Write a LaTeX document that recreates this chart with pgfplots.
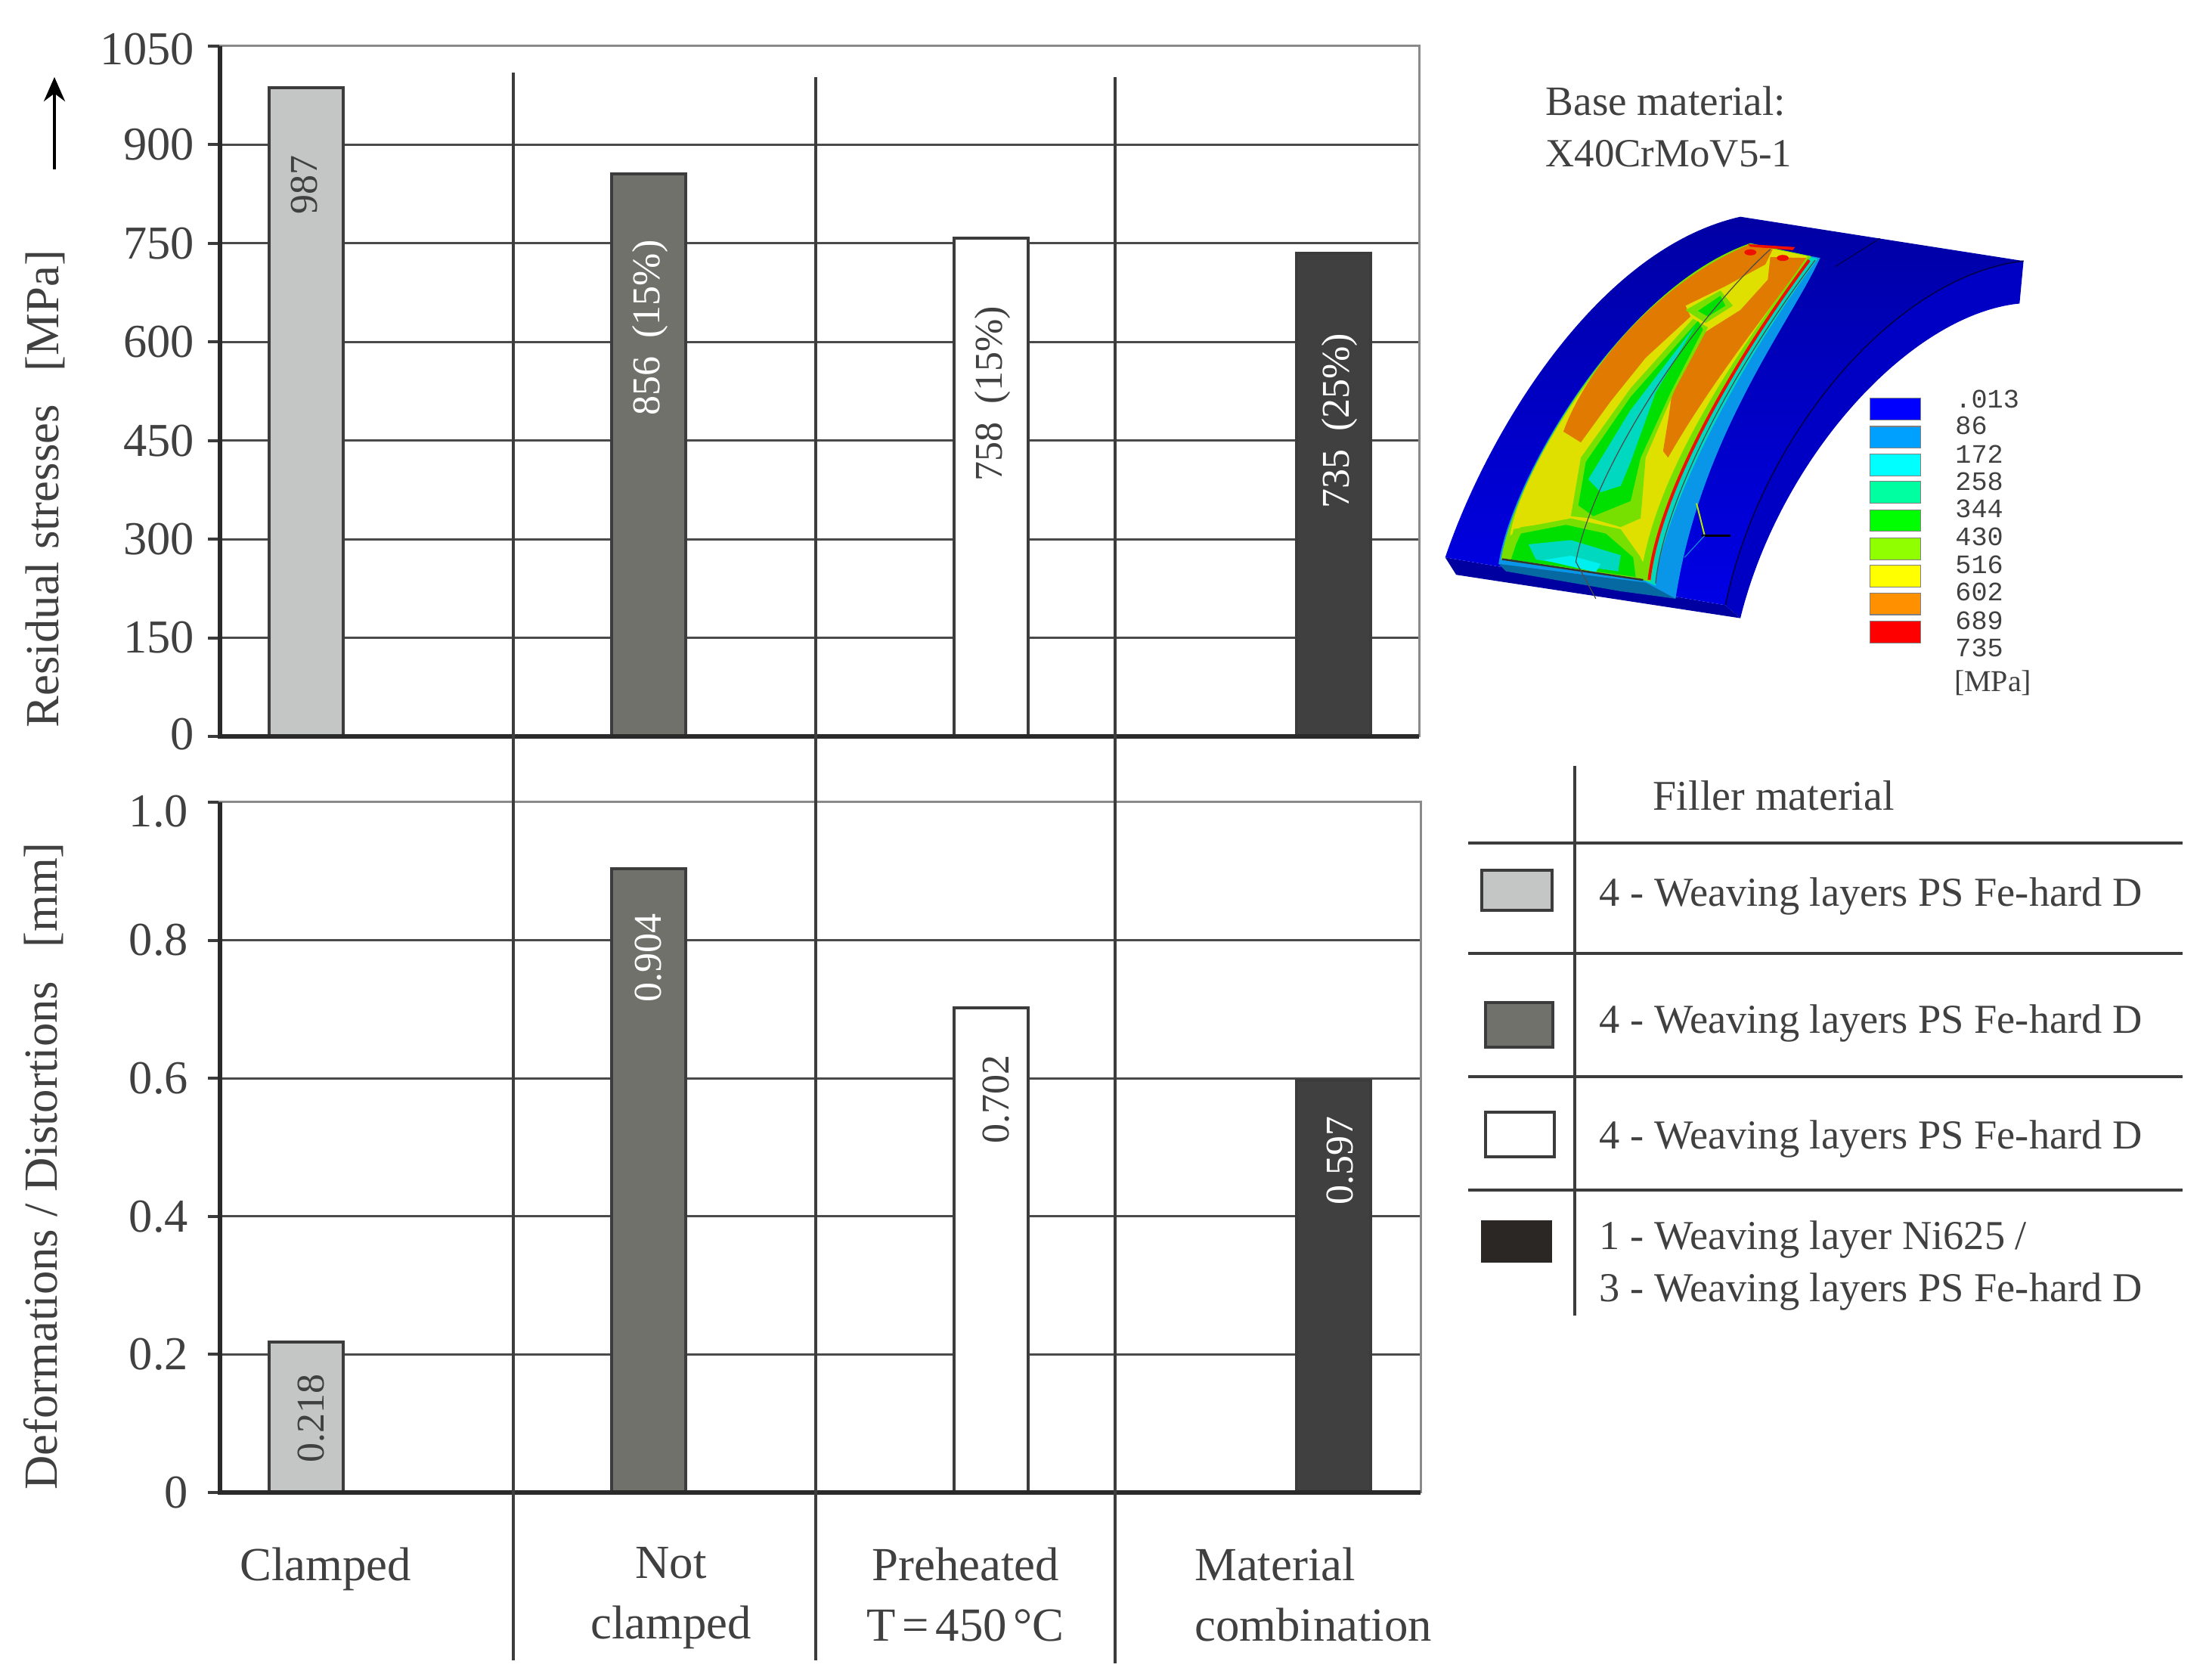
\documentclass[border=0pt]{standalone}
\usepackage{pgfplots}
\pgfplotsset{compat=1.18}
\usepackage{fontspec}
\setmainfont{Liberation Serif}
\newfontfamily\monof{Liberation Mono}
\usetikzlibrary{arrows.meta}
\definecolor{tc}{HTML}{404040}
\definecolor{gc}{HTML}{4A4A4A}
\definecolor{bc}{HTML}{8A8A8A}
\definecolor{ln}{HTML}{3C3C3C}
\definecolor{b1}{HTML}{C3C6C4}
\definecolor{b2}{HTML}{71716C}
\definecolor{b4}{HTML}{404040}
\definecolor{b4l}{HTML}{2A2725}
\definecolor{feA}{HTML}{0000E6}
\definecolor{feB}{HTML}{0000C4}
\definecolor{feC}{HTML}{0000A0}
\definecolor{feD}{HTML}{0000A4}
\definecolor{fLB}{HTML}{0A96E8}
\definecolor{fTL}{HTML}{00D8C0}
\definecolor{fCY}{HTML}{00F0F0}
\definecolor{fGR}{HTML}{00E000}
\definecolor{fLG}{HTML}{78E000}
\definecolor{fYE}{HTML}{E0E000}
\definecolor{fOR}{HTML}{E07A00}
\definecolor{fRE}{HTML}{F01000}
\newcommand{\lab}{\fontsize{15.7}{20}\selectfont}
\newcommand{\tk}{\fontsize{15.6}{18}\selectfont}
\newcommand{\leg}{\fontsize{13.6}{17}\selectfont}
\newcommand{\barf}{\fontsize{13}{15}\selectfont}
\pgfplotsset{
  mine/.style={
    scale only axis, clip=false,
    axis line style={draw=bc,line width=.75pt},
    ymajorgrids, grid style={line width=.75pt,draw=gc},
    tick align=outside, ytick pos=left,
    major tick length=4pt,
    ytick style={line width=1pt,draw=ln},
    xtick style={draw=none},
    yticklabel style={font=\tk,text=tc},
    every axis y label/.style={rotate=90,anchor=center,font=\lab,text=tc},
  },
  vbar/.style n args={3}{ybar,bar width=24.5pt,bar shift=0pt,draw=ln,line width=1pt,fill=#1,
    nodes near coords={#2},
    every node near coord/.style={#3,font=\barf,rotate=90,anchor=east,inner sep=0pt}},
}
\begin{document}
\begin{tikzpicture}
\useasboundingbox (0,0) rectangle (728.5pt,555.5pt);

% ---------- upper chart
\begin{axis}[mine,at={(72.75pt,312pt)},anchor=south west,width=396.5pt,height=228.25pt,
  xmin=-0.2504,xmax=3.2484,ymin=0,ymax=1050,
  xtick=\empty,ytick={0,150,300,450,600,750,900,1050},
  yticklabels={\raisebox{.8pt}[10.5pt][0pt]{0},150,300,450,600,750,900,\raisebox{-1pt}[10.5pt][0pt]{1050}},
  yticklabel style={xshift=-1pt},
  ylabel={Residual stresses\hspace{11pt}[MPa]},
  y label style={at={(rel axis cs:-0.1457,0.3587)}}]
\addplot[vbar={b1}{987}{text=tc,xshift=-.6pt,yshift=-22pt}] coordinates {(0,987)};
\addplot[vbar={b2}{856\hspace{6pt}(15\%)}{text=white,xshift=.5pt,yshift=-21.5pt}] coordinates {(1,856)};
\addplot[vbar={white}{758\hspace{6pt}(15\%)}{text=tc,xshift=.5pt,yshift=-22pt}] coordinates {(2,758)};
\addplot[vbar={b4}{735\hspace{6pt}(25\%)}{text=white,xshift=2pt,yshift=-26pt}] coordinates {(3,735)};
\draw[line width=1.5pt,draw=ln!70!black] (rel axis cs:0,1) -- (rel axis cs:0,0) -- (rel axis cs:1,0);
\end{axis}

% ---------- lower chart
\begin{axis}[mine,at={(72.75pt,62pt)},anchor=south west,width=397pt,height=228.25pt,
  xmin=-0.2504,xmax=3.2528,ymin=0,ymax=1,
  xtick={0.058,1.066,1.925,2.94},
  xticklabels={Clamped,{Not\\clamped},{Preheated\\T\hspace{2.2pt}=\hspace{2.2pt}450\hspace{2.2pt}°C},{Material\hspace*{25.3pt}\\combination}},
  xticklabel style={font=\lab,text=tc,align=center,yshift=-10.6pt},
  ytick={0,0.2,0.4,0.6,0.8,1},
  yticklabels={0,0.2,0.4,0.6,0.8,\raisebox{-3pt}[10.5pt][0pt]{1.0}},
  yticklabel style={xshift=-3pt},
  ylabel={Deformations / Distortions\hspace{11pt}[mm]},
  y label style={at={(rel axis cs:-0.147,0.4725)}}]
\addplot[vbar={b1}{0.218}{text=tc,xshift=1.8pt,yshift=-10.2pt}] coordinates {(0,0.218)};
\addplot[vbar={b2}{0.904}{text=white,xshift=0pt,yshift=-14.5pt}] coordinates {(1,0.904)};
\addplot[vbar={white}{0.702}{text=tc,xshift=1.5pt,yshift=-15pt}] coordinates {(2,0.702)};
\addplot[vbar={b4}{0.597}{text=white,xshift=2pt,yshift=-11.4pt}] coordinates {(3,0.597)};
\draw[line width=1.5pt,draw=ln!70!black] (rel axis cs:0,1) -- (rel axis cs:0,0) -- (rel axis cs:1,0);
\end{axis}

% ---------- everything in image pixels
\begin{scope}[shift={(0pt,555.5pt)},x=.25pt,y=-.25pt]
\draw[line width=.9pt,draw=ln] (679,96)--(679,2196);
\draw[line width=.9pt,draw=ln] (1079,102)--(1079,2196);
\draw[line width=1pt,draw=ln] (1475,102)--(1475,2200);
\draw[line width=1pt,-{Stealth[length=8pt,width=7pt]},draw=black] (72,224)--(72,102);

% legend table
\draw[line width=.8pt,draw=ln] (2083,1013)--(2083,1740);
\foreach \yy in {1115,1261,1424,1574} \draw[line width=.8pt,draw=ln] (1942,\yy)--(2887,\yy);
\node[anchor=west,inner sep=0,font=\fontsize{14}{17}\selectfont,text=tc] at (2186,1052) {Filler material};
\draw[line width=.9pt,draw=ln,fill=b1] (1960,1151) rectangle (2053,1204);
\draw[line width=.9pt,draw=ln,fill=b2] (1965,1326) rectangle (2054,1385);
\draw[line width=.9pt,draw=ln,fill=white] (1965,1471) rectangle (2056,1530);
\draw[line width=.5pt,draw=b4l,fill=b4l] (1960,1615) rectangle (2052,1669);
\node[anchor=west,inner sep=0,font=\leg,text=tc] at (2115,1186) {4 - Weaving layers PS Fe-hard D};
\node[anchor=west,inner sep=0,font=\leg,text=tc] at (2115,1354) {4 - Weaving layers PS Fe-hard D};
\node[anchor=west,inner sep=0,font=\leg,text=tc] at (2115,1507) {4 - Weaving layers PS Fe-hard D};
\node[anchor=west,inner sep=0,font=\leg,text=tc] at (2115,1640) {1 - Weaving layer Ni625 /};
\node[anchor=west,inner sep=0,font=\leg,text=tc] at (2115,1709) {3 - Weaving layers PS Fe-hard D};

% base material
\node[anchor=west,inner sep=0,font=\fontsize{13.8}{17}\selectfont,text=tc] at (2044,134) {Base material:};
\node[anchor=west,inner sep=0,font=\fontsize{13.2}{17}\selectfont,text=tc] at (2044,203) {X40CrMoV5-1};
\end{scope}

% ---------- FE illustration, in coordinates of the enlarged crop
\begin{scope}[xshift=470pt,yshift=540.5pt,x=.16485pt,y=-.1435pt]
% faces of the block
\fill[feB] (1208,497) -- (1200,595) .. controls (980,620) and (720,950) .. (640,1320) -- (610,1290) .. controls (680,900) and (950,530) .. (1208,497) -- cycle;
\fill[feC] (48,1180) -- (610,1290) -- (640,1320) -- (70,1220) -- cycle;
\shade[top color=feD,middle color=feA,bottom color=feA] (48,1180) .. controls (130,900) and (350,470) .. (640,395) -- (1208,497) .. controls (950,530) and (680,900) .. (610,1290) -- cycle;
\draw[line width=.4pt,draw=black!70!blue] (1208,497) .. controls (950,530) and (680,900) .. (610,1290);
\draw[line width=.3pt,draw=black!70!blue] (830,510) -- (920,445);
% light blue bed
\fill[fLB] (155,1195) .. controls (180,1000) and (400,560) .. (660,458) -- (800,490) .. controls (740,640) and (560,900) .. (510,1275) .. controls (400,1250) and (280,1230) .. (155,1195) -- cycle;
% teal strip along the right
\fill[fTL] (470,1245) .. controls (480,1090) and (620,760) .. (795,492) -- (770,485) .. controls (620,700) and (480,1000) .. (450,1235) -- cycle;
% yellow body
\fill[fLG] (160,1185) .. controls (185,1000) and (400,560) .. (660,456) -- (782,486) .. controls (660,690) and (490,960) .. (460,1235) -- cycle;
\fill[fYE] (178,1130) .. controls (195,990) and (405,565) .. (665,460) -- (775,486) .. controls (650,680) and (485,950) .. (445,1190) -- (400,1120) -- (300,1095) -- (200,1110) -- cycle;
% bottom patch
\fill[fLG] (175,1170) -- (185,1115) -- (300,1090) -- (400,1115) -- (440,1180) -- (445,1230) -- cycle;
\fill[fGR] (190,1150) -- (200,1125) -- (290,1105) -- (370,1125) -- (425,1180) -- (430,1225) -- (180,1185) -- cycle;
\fill[fTL] (215,1150) -- (300,1140) -- (400,1175) -- (395,1212) -- (230,1185) -- cycle;
\fill[fCY] (245,1186) -- (300,1176) -- (360,1195) -- (350,1214) -- cycle;
\fill[fLB!70!black] (155,1195) -- (450,1238) -- (510,1275) -- (400,1258) -- (170,1212) -- cycle;
\draw[line width=.6pt,draw=black!80] (162,1184) -- (445,1232);
% orange, left and right
\fill[fOR] (285,890) .. controls (330,745) and (475,545) .. (660,458) -- (705,470) -- (690,505) -- (610,555) -- (530,600) -- (540,625) -- (450,720) -- (380,820) -- (320,915) -- cycle;
\fill[fOR] (700,488) -- (772,490) .. controls (700,610) and (590,760) .. (495,950) -- (485,935) -- (497,850) -- (515,700) -- (640,610) -- (695,540) -- cycle;
% central tear
\fill[fLG] (300,1085) -- (320,950) -- (420,790) -- (545,630) -- (575,650) -- (510,790) -- (450,950) -- (440,1090) -- (400,1110) -- (340,1090) -- cycle;
\fill[fGR] (315,1060) -- (330,960) -- (420,810) -- (555,635) -- (565,655) -- (500,800) -- (440,950) -- (420,1050) -- (345,1085) -- cycle;
\fill[fTL] (335,1000) -- (420,840) -- (550,645) -- (470,800) -- (420,960) -- (400,1015) -- (360,1030) -- cycle;
\fill[fLG] (530,610) -- (600,565) -- (625,600) -- (570,640) -- cycle;
\fill[fGR] (555,612) -- (600,577) -- (610,600) -- (575,625) -- cycle;
% red strip with the weld edge
\draw[line width=1pt,draw=fRE] (457,1232) .. controls (475,1050) and (600,770) .. (778,495);
\draw[line width=.3pt,draw=black!70] (470,1240) .. controls (485,1060) and (610,770) .. (790,495);
\draw[line width=.3pt,draw=black!70] (310,1190) .. controls (340,1000) and (520,660) .. (700,470);
\draw[line width=.3pt,draw=black!70] (310,1190) -- (350,1275);
% red spots
\fill[fRE] (655,458) -- (750,465) -- (745,472) -- (660,464) -- cycle;
\fill[fRE] (660,477) ellipse (12 and 7);
\fill[fRE] (725,490) ellipse (12 and 7);
% coordinate triad
\draw[line width=.5pt,draw=fYE!80!green] (552,1055) -- (568,1128);
\draw[line width=.7pt,draw=black] (562,1130) -- (620,1130);
\draw[line width=.3pt,draw=cyan!70!blue] (568,1130) -- (528,1180);
% colour scale
\foreach \cy/\cc in {838/0000FF,903/00A0FF,967/00FFFF,1030/00FFA0,1095/00FF00,1160/90FF00,1223/FFFF00,1287/FF9000,1352/FF0000}{
  \definecolor{cc}{HTML}{\cc}
  \draw[line width=.3pt,draw=gray,fill=cc] (900,\cy-25) rectangle (1002,\cy+25);
}
\foreach \cy/\tt in {815/.013,877/86,942/172,1005/258,1068/344,1133/430,1197/516,1260/602,1325/689,1388/735}{
  \node[anchor=west,inner sep=0,font=\monof\fontsize{8.8}{10}\selectfont,text=tc] at (1070,\cy) {\tt};
}
\node[anchor=west,inner sep=0,font=\fontsize{10}{12}\selectfont,text=tc] at (1068,1470) {[MPa]};
\end{scope}
\end{tikzpicture}
\end{document}
